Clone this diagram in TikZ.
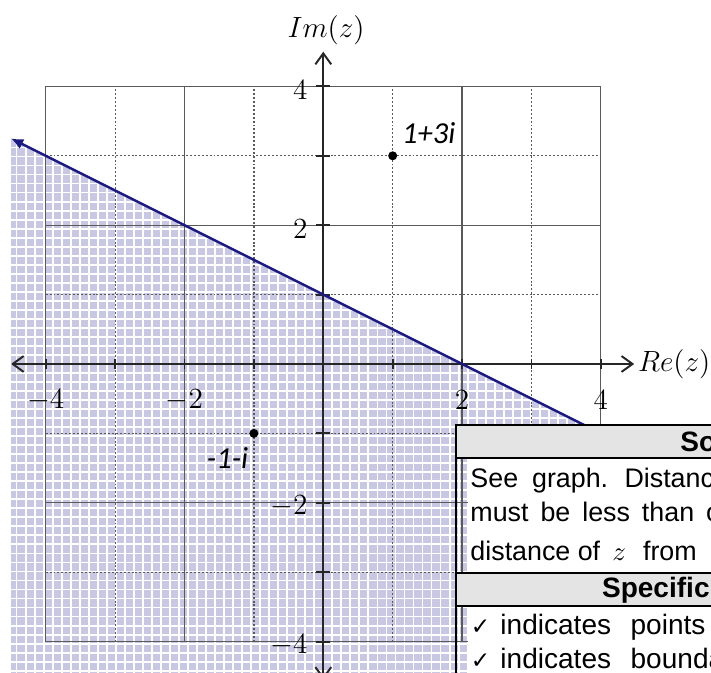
\documentclass[tikz,border=0pt]{standalone}
\usepackage{fontspec}
\newfontfamily\arialf{Liberation Sans}
\newfontfamily\calibf{Carlito}
\newfontfamily\dejavuf{DejaVu Sans}
\usetikzlibrary{arrows.meta}
\definecolor{shadecol}{RGB}{200,200,228}
\definecolor{navyline}{RGB}{26,26,130}
\definecolor{gridcol}{RGB}{90,90,90}
\definecolor{headgray}{RGB}{228,228,228}
\newcommand\tabfontx{\arialf\fontsize{11}{13}\selectfont}
\newcommand\rowfontx{\arialf\fontsize{11.5}{13}\selectfont}
\newcommand\tabheadfontx{\arialf\bfseries\fontsize{11.5}{13}\selectfont}
\newcommand\wsp[1]{\spaceskip=#1\relax}
\begin{document}
\begin{tikzpicture}[x=1cm,y=1cm,
  solidgrid/.style={gridcol, line width=0.5pt},
  dotgrid/.style={gridcol, line width=0.5pt, dash pattern=on 0.8pt off 0.8pt},
  axisline/.style={black!85, line width=0.8pt},
  barb/.style={{Straight Barb[length=4.5pt,width=6.5pt]}-{Straight Barb[length=4.5pt,width=6.5pt]}},
  ticklab/.style={inner sep=0pt, font=\fontsize{11.5}{13}\selectfont},
  ptlab/.style={inner sep=0pt, font=\calibf\itshape\fontsize{12.5}{14}\selectfont},
  dot/.style={circle, fill=black, inner sep=0pt, minimum size=3.7pt},
  tabtext/.style={anchor=base west, inner sep=0pt, font=\tabfontx},
  rowtext/.style={anchor=base west, inner sep=0pt, font=\rowfontx},
  tabhead/.style={anchor=base west, inner sep=0pt, font=\tabheadfontx},
  checkmark/.style={anchor=base west, inner sep=0pt, font=\dejavuf\fontsize{9.5}{11}\selectfont},
  tabborder/.style={black, line width=0.8pt}
]
\useasboundingbox (-4.659,-4.452) rectangle (5.587,5.245);
\clip (-4.659,-4.452) rectangle (5.587,5.245);

% shaded half plane with fine white grid
\begin{scope}
  \clip (-4.5,3.25) -- (6,-2) -- (6,-4.6) -- (-4.5,-4.6) -- cycle;
  \fill[shadecol] (-4.6,-4.6) rectangle (6,3.4);
  \draw[white, line width=0.75pt, step=0.13] (-4.6,-4.6) grid (6,3.4);
\end{scope}

% main grid
\foreach \v in {-4,-2,2,4} {
  \draw[solidgrid] (\v,-4) -- (\v,4);
  \draw[solidgrid] (-4,\v) -- (4,\v);
}
\foreach \v in {-3,-1,1,3} {
  \draw[dotgrid] (\v,-4) -- (\v,4);
  \draw[dotgrid] (-4,\v) -- (4,\v);
}

% axes
\coordinate (xl) at (-4.5,0);
\coordinate (xr) at (4.48,0);
\coordinate (yb) at (0,-4.55);
\coordinate (yt) at (0,4.5);
\draw[axisline, barb] (xl) -- (xr);
\draw[axisline, barb] (yb) -- (yt);
\foreach \i in {-4,-3,-2,-1,1,2,3,4} {
  \draw[axisline] (\i,-0.07) -- (\i,0.07);
  \draw[axisline] (-0.1,\i) -- (0.1,\i);
}

% axis labels
\node[inner sep=0pt, font=\fontsize{12}{14}\selectfont] (imlab) at (0.04,4.81) {$Im(z)$};
\node[inner sep=0pt, anchor=west, font=\fontsize{12}{14}\selectfont] (relab) at (4.53,0) {$Re(z)$};

% tick labels
\node[ticklab] (xm4) at (-4,-0.52) {$-4$};
\node[ticklab] (xm2) at (-2,-0.52) {$-2$};
\node[ticklab] (xp2) at (2,-0.52) {$2$};
\node[ticklab] (xp4) at (4,-0.52) {$4$};
\node[ticklab, anchor=east] (yp4) at (-0.22,3.95) {$4$};
\node[ticklab, anchor=east] (yp2) at (-0.22,1.95) {$2$};
\node[ticklab, anchor=east] (ym2) at (-0.22,-2.05) {$-2$};
\node[ticklab, anchor=east] (ym4) at (-0.22,-4.05) {$-4$};

% boundary line
\coordinate (la) at (-4.5,3.25);
\coordinate (lb) at (3.9,-0.95);
\draw[navyline, line width=1pt, {Latex[length=5pt,width=4.5pt]}-] (la) -- (lb);

% points
\node[dot] (p1) at (1,3) {};
\node[dot] (p2) at (-1,-1) {};
\node[ptlab] (p1lab) at (1.52,3.33) {1+3i};
\node[ptlab] (p2lab) at (-1.38,-1.35) {-1-i};

% table
\fill[headgray] (1.91,-0.879) rectangle (6,-1.354);
\fill[white] (2.085,-1.354) rectangle (6,-3.01);
\fill[headgray] (1.91,-3.01) rectangle (6,-3.49);
\fill[white] (2.085,-3.49) rectangle (6,-4.7);
\draw[tabborder] (6,-0.879) -- (1.91,-0.879) -- (1.91,-4.7);
\draw[tabborder] (1.91,-1.354) -- (6,-1.354);
\draw[tabborder] (1.91,-3.01) -- (6,-3.01);
\draw[tabborder] (1.91,-3.49) -- (6,-3.49);

\node[tabhead] (h1) at (5.14,-1.268) {Solution};
\node[tabtext] (t1) at (2.114,-1.787) {\wsp{5.7pt}See graph. Distance of $z$ from $-1-i$};
\node[tabtext] (t2) at (2.114,-2.277) {\wsp{4.9pt}must be less than or equal to the};
\node[tabtext] (t3) at (2.114,-2.839) {distance of\hspace{5pt}$z$\hspace{7pt}from\hspace{8pt}$1+3i$.};
\node[tabhead] (h2) at (4.01,-3.372) {Specific behaviours};
\node[checkmark] (c1) at (2.12,-3.905) {✓};
\node[rowtext] (t4) at (2.546,-3.905) {\wsp{8pt}indicates points};
\node[checkmark] (c2) at (2.12,-4.395) {✓};
\node[rowtext] (t5) at (2.546,-4.395) {\wsp{8pt}indicates boundary};
\end{tikzpicture}
\end{document}
